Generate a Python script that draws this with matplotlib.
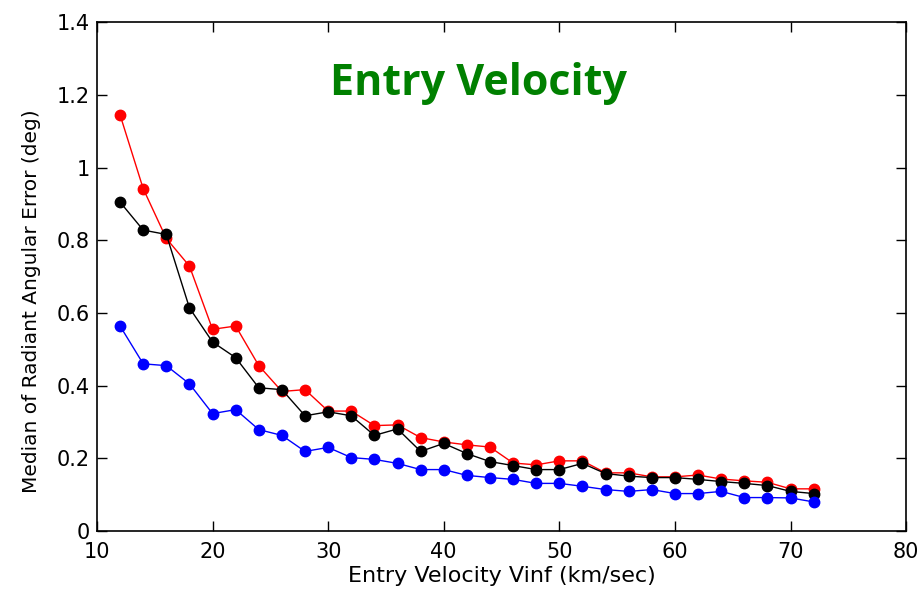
import numpy as np
import matplotlib
matplotlib.use("Agg")
import matplotlib.pyplot as plt

plt.rcParams['font.family'] = ['DejaVu Sans']

# --- Entry velocity bins (km/sec)
vinf = np.arange(12, 73, 2)

# --- Median radiant angular error (deg)
err_red = [1.145, 0.942, 0.805, 0.729, 0.555, 0.564, 0.455, 0.384, 0.389, 0.330,
           0.330, 0.290, 0.292, 0.257, 0.245, 0.237, 0.231, 0.187, 0.182, 0.193,
           0.193, 0.160, 0.160, 0.149, 0.149, 0.154, 0.143, 0.138, 0.134, 0.116,
           0.116]
err_black = [0.905, 0.828, 0.816, 0.614, 0.520, 0.477, 0.394, 0.389, 0.317, 0.328,
             0.317, 0.263, 0.281, 0.219, 0.241, 0.213, 0.191, 0.180, 0.169, 0.169,
             0.186, 0.158, 0.151, 0.147, 0.147, 0.142, 0.136, 0.131, 0.125, 0.109,
             0.103]
err_blue = [0.564, 0.460, 0.455, 0.405, 0.323, 0.334, 0.279, 0.263, 0.219, 0.230,
            0.202, 0.197, 0.186, 0.169, 0.169, 0.153, 0.147, 0.142, 0.131, 0.131,
            0.123, 0.114, 0.109, 0.114, 0.103, 0.103, 0.109, 0.092, 0.092, 0.091,
            0.080]

fig = plt.figure(figsize=(9.19, 6.0), dpi=100)
ax = fig.add_axes([0.1055, 0.115, 0.8805, 0.848])

ax.plot(vinf, err_red, '-o', color='red', lw=1, ms=7.5)
ax.plot(vinf, err_black, '-o', color='black', lw=1, ms=7.5)
ax.plot(vinf, err_blue, '-o', color='blue', lw=1, ms=7.5)

ax.set_xlim(10, 80)
ax.set_ylim(0, 1.4)
ax.set_xticks(np.arange(10, 81, 10))
ax.set_yticks(np.arange(0, 1.41, 0.2))
ax.set_yticklabels(['0', '0.2', '0.4', '0.6', '0.8', '1', '1.2', '1.4'])

ax.tick_params(direction='in', length=7, width=1, top=True, right=True,
               labelsize=15)
ax.tick_params(axis='x', pad=8)
ax.tick_params(axis='y', pad=5)
for s in ax.spines.values():
    s.set_linewidth(1.2)

ax.set_xlabel('Entry Velocity Vinf (km/sec)', fontsize=16, labelpad=3)
ax.set_ylabel('Median of Radiant Angular Error (deg)', fontsize=14.5)
ax.yaxis.set_label_coords(-0.069, 0.452)

ax.text(0.472, 0.857, 'Entry Velocity', transform=ax.transAxes,
        ha='center', va='baseline', fontsize=31, fontweight='bold',
        color='#008000', family=['Open Sans', 'DejaVu Sans'])

fig.savefig('out.png', dpi=100)
